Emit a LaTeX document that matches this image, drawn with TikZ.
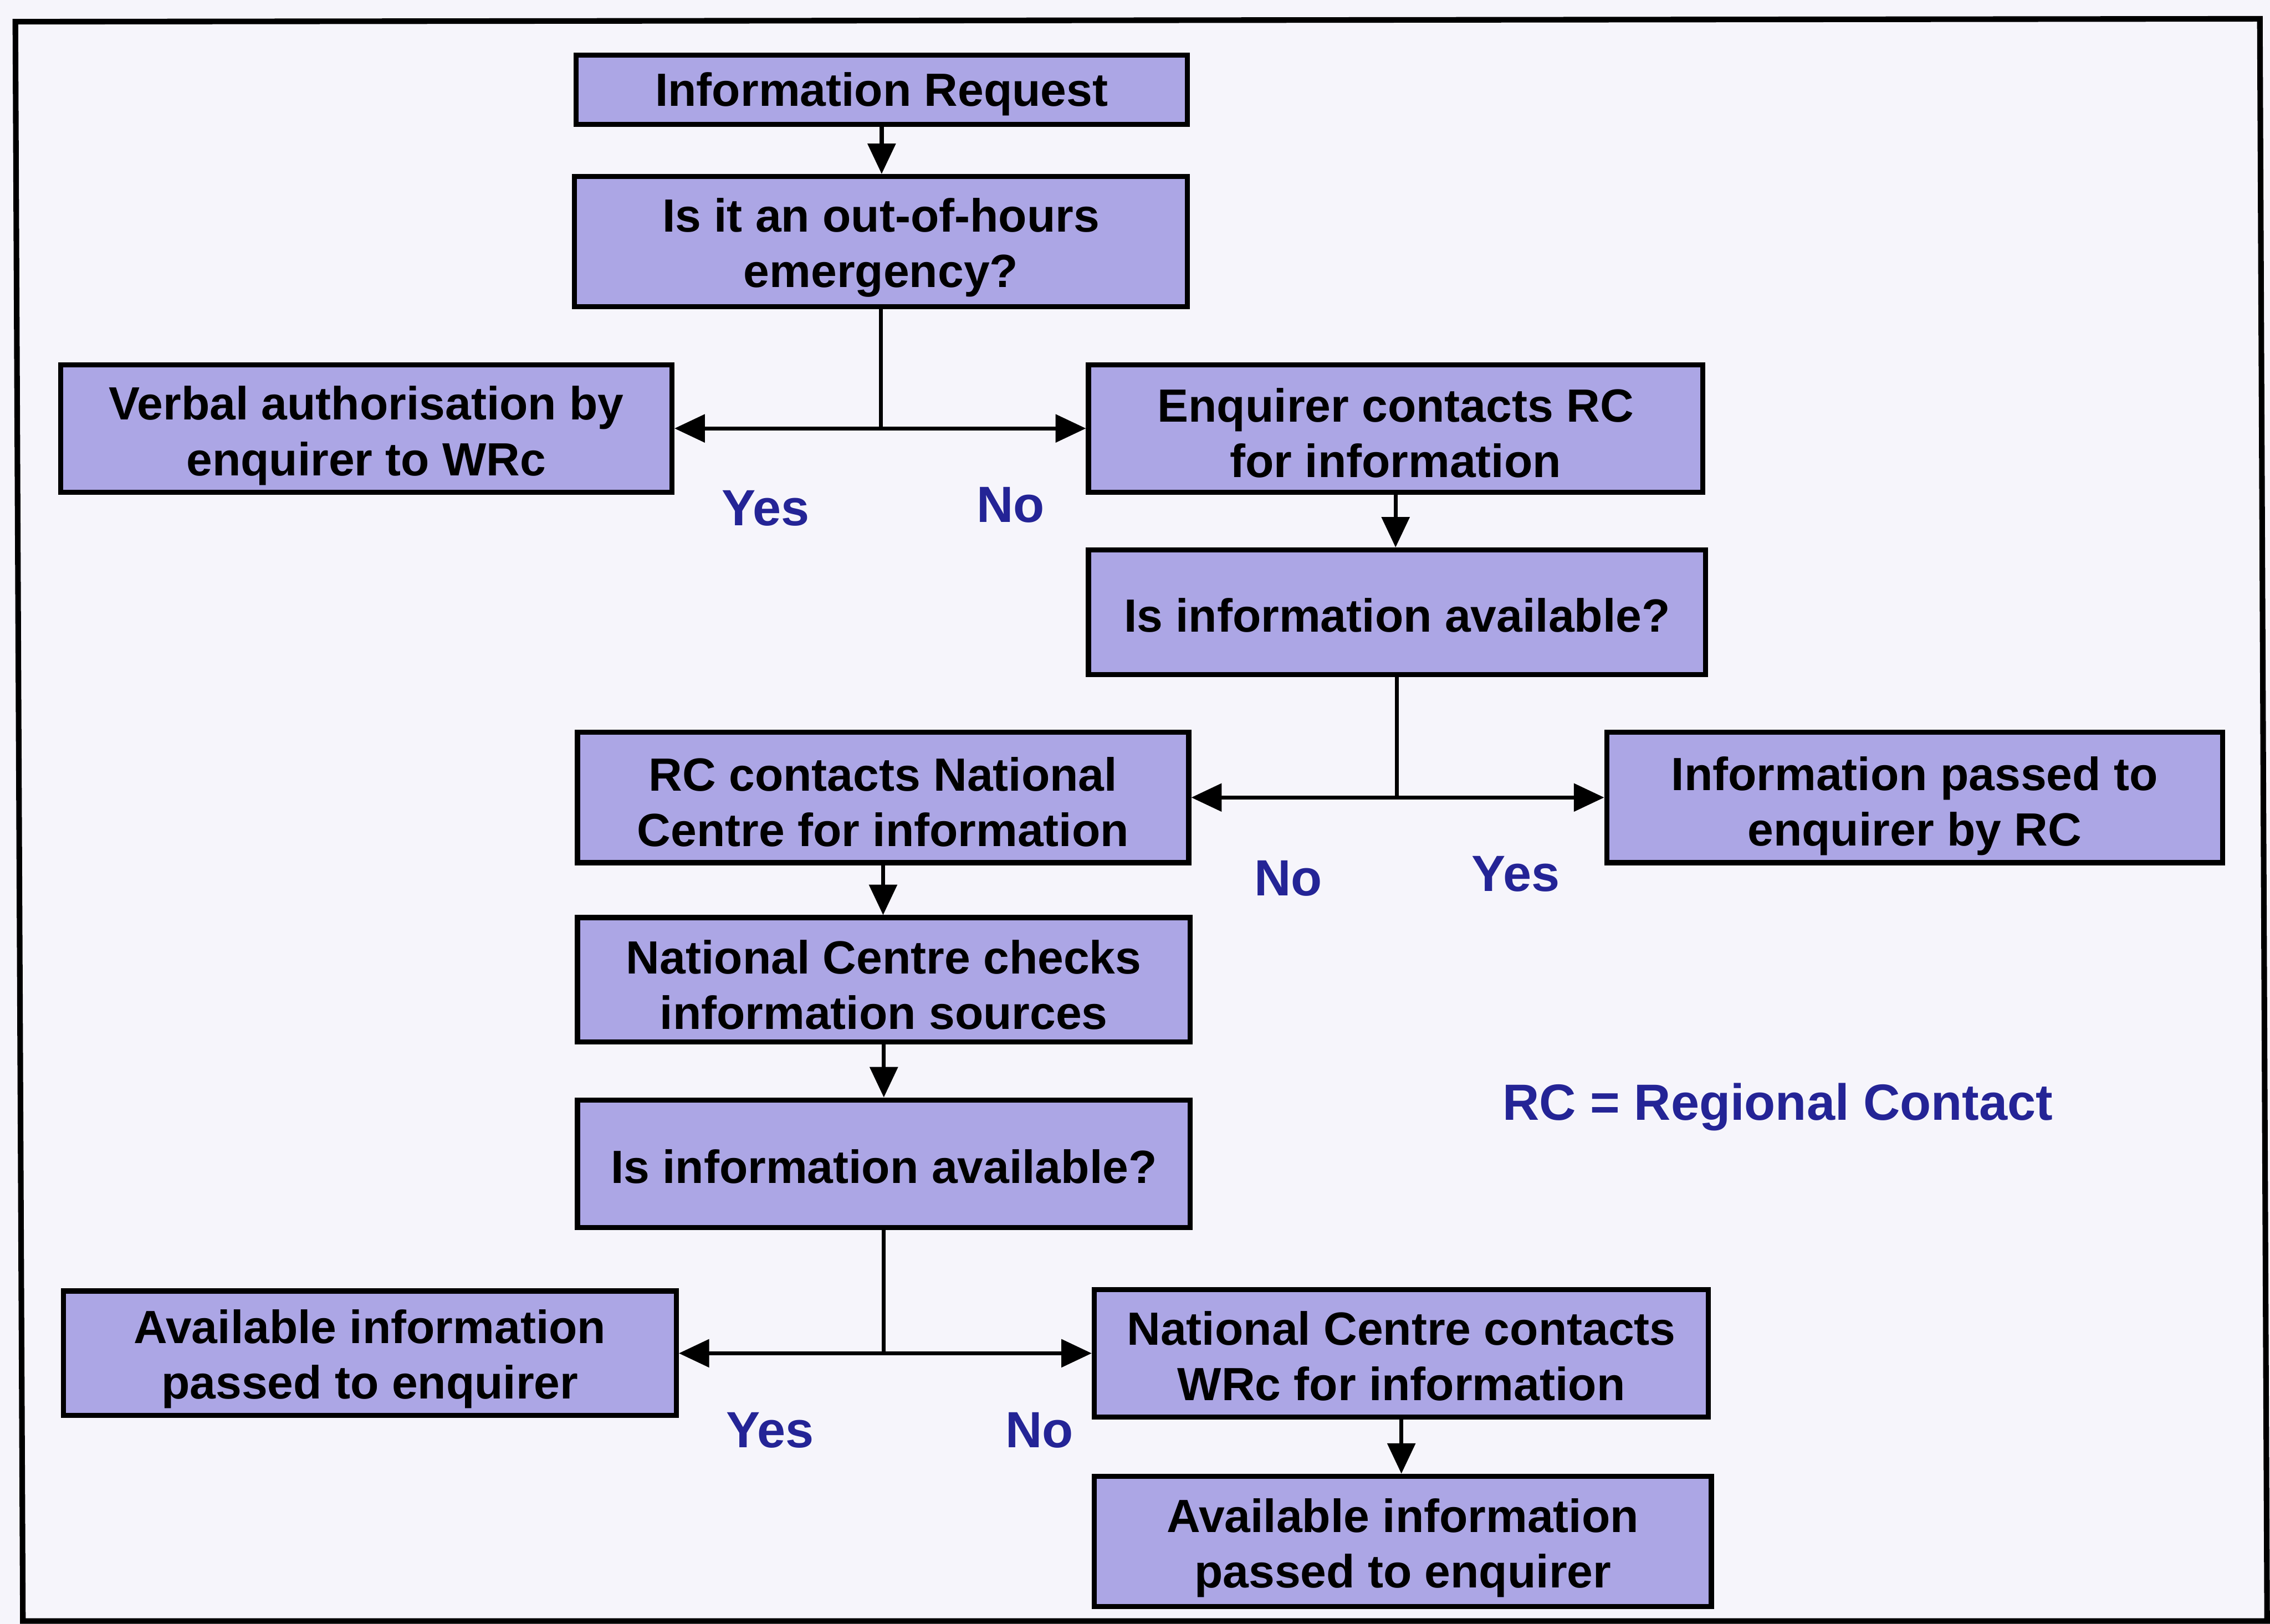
\documentclass[tikz,border=0pt]{standalone}
\usepackage{fontspec}
\setmainfont{Liberation Sans}
\usetikzlibrary{arrows.meta}
\definecolor{boxfill}{RGB}{172,166,229}
\definecolor{paper}{RGB}{246,245,251}
\definecolor{labelblue}{RGB}{36,36,150}
\tikzset{
  flowbox/.style={draw=black, line width=1.0pt, fill=boxfill, inner sep=0pt},
  boxtext/.style={align=center, inner sep=0pt,
    font=\bfseries\fontsize{9.15}{10.9}\selectfont},
  link/.style={draw=black, line width=0.8pt},
  arrowlink/.style={link, -{Triangle[length=0.21cm, width=0.19cm]}},
  branchlabel/.style={text=labelblue, inner sep=0pt,
    font=\bfseries\fontsize{10}{12}\selectfont},
}
\begin{document}
\begin{tikzpicture}[x=0.01cm, y=-0.01cm]
  % page and outer frame
  \fill[paper] (0,0) rectangle (1568,1122);
  \useasboundingbox (0,0) rectangle (1568,1122);
  \draw[line width=1.1pt] (10.6,15) -- (1561,13) -- (1566,1120) -- (15.8,1120) -- cycle;

  % process boxes
  \node[flowbox, minimum width=4.22cm, minimum height=0.48cm] (req) at (609,62) {};
  \node[flowbox, minimum width=4.23cm, minimum height=0.90cm] (emerg) at (608.5,167) {};
  \node[flowbox, minimum width=4.22cm, minimum height=0.88cm] (verbal) at (253,296) {};
  \node[flowbox, minimum width=4.24cm, minimum height=0.88cm] (enq) at (964,296) {};
  \node[flowbox, minimum width=4.26cm, minimum height=0.86cm] (availA) at (965,423) {};
  \node[flowbox, minimum width=4.22cm, minimum height=0.90cm] (rcnc) at (610,551) {};
  \node[flowbox, minimum width=4.25cm, minimum height=0.90cm] (byrc) at (1322.5,551) {};
  \node[flowbox, minimum width=4.23cm, minimum height=0.86cm] (nccheck) at (610.5,677) {};
  \node[flowbox, minimum width=4.23cm, minimum height=0.88cm] (availB) at (610.5,804) {};
  \node[flowbox, minimum width=4.23cm, minimum height=0.86cm] (passL) at (255.5,935) {};
  \node[flowbox, minimum width=4.24cm, minimum height=0.88cm] (ncwrc) at (968,935) {};
  \node[flowbox, minimum width=4.26cm, minimum height=0.90cm] (passR) at (969,1065) {};

  % box texts
  \node[boxtext] (req-t) at ([yshift=-0.03cm]req.center) {Information Request};
  \node[boxtext] (emerg-t) at ([yshift=-0.04cm]emerg.center) {Is it an out-of-hours\\emergency?};
  \node[boxtext] (verbal-t) at ([yshift=-0.05cm]verbal.center) {Verbal authorisation by\\enquirer to WRc};
  \node[boxtext] (enq-t) at ([yshift=-0.03cm]enq.center) {Enquirer contacts RC\\for information};
  \node[boxtext] (availA-t) at ([yshift=-0.02cm]availA.center) {Is information available?};
  \node[boxtext] (rcnc-t) at ([yshift=-0.03cm]rcnc.center) {RC contacts National\\Centre for information};
  \node[boxtext] (byrc-t) at ([yshift=-0.06cm]byrc.center) {Information passed to\\enquirer by RC};
  \node[boxtext] (nccheck-t) at ([yshift=-0.035cm]nccheck.center) {National Centre checks\\information sources};
  \node[boxtext] (availB-t) at ([yshift=-0.02cm]availB.center) {Is information available?};
  \node[boxtext] (passL-t) at ([yshift=-0.04cm]passL.center) {Available information\\passed to enquirer};
  \node[boxtext] (ncwrc-t) at ([yshift=-0.02cm]ncwrc.center) {National Centre contacts\\WRc for information};
  \node[boxtext] (passR-t) at ([yshift=-0.045cm]passR.center) {Available information\\passed to enquirer};

  % straight links
  \draw[arrowlink] (req.south) -- (req.south |- emerg.north);
  \draw[arrowlink] (enq.south) -- (enq.south |- availA.north);
  \draw[arrowlink] (rcnc.south) -- (rcnc.south |- nccheck.north);
  \draw[arrowlink] (nccheck.south) -- (nccheck.south |- availB.north);
  \draw[arrowlink] (ncwrc.south) -- (ncwrc.south |- passR.north);

  % decision branches
  \coordinate (forkA) at (emerg.south |- verbal.east);
  \draw[link] (emerg.south) -- (forkA);
  \draw[arrowlink] (forkA) -- (verbal.east);
  \draw[arrowlink] (forkA) -- (enq.west);

  \coordinate (forkB) at (availA.south |- rcnc.east);
  \draw[link] (availA.south) -- (forkB);
  \draw[arrowlink] (forkB) -- (rcnc.east);
  \draw[arrowlink] (forkB) -- (byrc.west);

  \coordinate (forkC) at (availB.south |- passL.east);
  \draw[link] (availB.south) -- (forkC);
  \draw[arrowlink] (forkC) -- (passL.east);
  \draw[arrowlink] (forkC) -- (ncwrc.west);

  % branch labels
  \node[branchlabel] (yesA) at (529,351) {Yes};
  \node[branchlabel] (noA) at (698,349) {No};
  \node[branchlabel] (noB) at (890,607) {No};
  \node[branchlabel] (yesB) at (1047,604) {Yes};
  \node[branchlabel] (yesC) at (532,988) {Yes};
  \node[branchlabel] (noC) at (718,988) {No};

  % legend
  \node[branchlabel] (legend) at (1228,765) {RC = Regional Contact};
\end{tikzpicture}
\end{document}
